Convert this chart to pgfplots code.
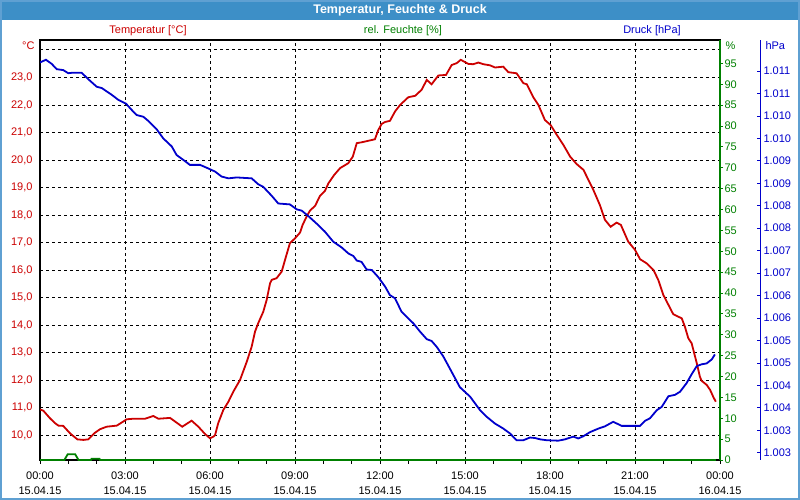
\documentclass[border=0pt]{standalone}
\usepackage{pgfplots}
\pgfplotsset{compat=1.18}
\usepackage{fontspec}
\setmainfont{Liberation Sans}

\definecolor{tcol}{RGB}{204,0,0}
\definecolor{hcol}{RGB}{0,128,0}
\definecolor{pcol}{RGB}{0,0,204}
\definecolor{barcol}{RGB}{61,143,199}
\definecolor{framecol}{RGB}{95,160,210}
\newcommand\lbl{\fontsize{11}{13}\selectfont}

\begin{document}
\begin{tikzpicture}[x=1pt,y=1pt]
\useasboundingbox (0,0) rectangle (800,500);
\fill[white] (0,0) rectangle (800,500);
\fill[barcol] (0,480) rectangle (800,500);
\draw[framecol, line width=2pt] (1,1) rectangle (799,499);
\node[white, font=\fontsize{12.5}{14}\selectfont\bfseries] at (400,490) {Temperatur, Feuchte \& Druck};

% temperature
\begin{axis}[
  at={(40pt,40pt)}, anchor=south west,
  width=680pt, height=420pt, scale only axis,
  xmin=0, xmax=24, ymin=9.09, ymax=24.36,
  axis line style={black, line width=1.2pt},
  xtick={0,3,...,24},
  xticklabels={{00:00\\15.04.15},{03:00\\15.04.15},{06:00\\15.04.15},{09:00\\15.04.15},{12:00\\15.04.15},{15:00\\15.04.15},{18:00\\15.04.15},{21:00\\15.04.15},{00:00\\16.04.15}},
  xticklabel style={align=center, font=\fontsize{11}{15}\selectfont, text=black, yshift=-4pt},
  minor xtick={1,2,4,5,7,8,10,11,13,14,16,17,19,20,22,23},
  xtick pos=bottom,
  tick align=outside,
  major tick length=4pt, minor tick length=4pt,
  tick style={black, line width=0.8pt},
  ytick={10,11,...,24},
  yticklabels={{10,0},{11,0},{12,0},{13,0},{14,0},{15,0},{16,0},{17,0},{18,0},{19,0},{20,0},{21,0},{22,0},{23,0},{}},
  yticklabel style={font=\lbl, text=tcol},
  ytick pos=left,
  ytick style={draw=none},
  xmajorgrids, ymajorgrids,
  major grid style={black, line width=0.8pt, dash pattern=on 3pt off 3pt},
]
\addplot[tcol, line width=1.8pt] coordinates {
(0.00,10.93) (0.12,10.88) (0.35,10.61) (0.53,10.43) (0.65,10.34) (0.82,10.33)
(1.06,10.06) (1.32,9.84) (1.53,9.82) (1.70,9.84) (1.94,10.08) (2.12,10.21)
(2.35,10.30) (2.71,10.34) (2.88,10.45) (3.06,10.57) (3.29,10.59) (3.71,10.59)
(4.00,10.69) (4.18,10.59) (4.59,10.62) (4.82,10.45) (5.02,10.30) (5.35,10.52)
(5.59,10.30) (5.82,10.04) (6.00,9.88) (6.12,9.94) (6.18,10.00) (6.29,10.43)
(6.47,10.91) (6.65,11.21) (6.82,11.57) (7.06,12.00) (7.30,12.67) (7.47,13.21)
(7.59,13.76) (7.70,14.06) (7.88,14.48) (8.00,14.91) (8.12,15.52) (8.18,15.64)
(8.35,15.70) (8.53,15.94) (8.68,16.48) (8.82,16.97) (9.00,17.15) (9.18,17.36)
(9.27,17.64) (9.41,17.94) (9.53,18.16) (9.71,18.33) (9.88,18.69) (10.06,18.88)
(10.18,19.15) (10.38,19.45) (10.59,19.70) (10.88,19.88) (11.04,20.12) (11.18,20.61)
(11.35,20.64) (11.82,20.75) (11.94,21.09) (12.06,21.31) (12.18,21.38) (12.35,21.42)
(12.53,21.76) (12.71,22.00) (13.00,22.28) (13.24,22.33) (13.47,22.55) (13.65,22.91)
(13.82,22.75) (14.06,23.07) (14.33,23.09) (14.53,23.45) (14.71,23.52) (14.85,23.64)
(15.12,23.49) (15.29,23.48) (15.47,23.54) (15.65,23.48) (15.88,23.44) (16.06,23.36)
(16.35,23.39) (16.53,23.19) (16.82,23.15) (17.06,22.79) (17.18,22.75) (17.41,22.28)
(17.59,22.00) (17.82,21.45) (18.02,21.27) (18.24,20.91) (18.47,20.55) (18.71,20.12)
(18.94,19.85) (19.18,19.64) (19.53,18.91) (19.76,18.36) (19.94,17.82) (20.14,17.57)
(20.35,17.72) (20.50,17.64) (20.76,17.03) (21.00,16.73) (21.18,16.39) (21.41,16.24)
(21.65,16.00) (21.82,15.64) (22.00,15.09) (22.18,14.73) (22.35,14.39) (22.65,14.24)
(22.76,13.94) (22.88,13.52) (23.00,13.33) (23.09,12.97) (23.18,12.61) (23.29,12.12)
(23.35,11.97) (23.53,11.82) (23.65,11.64) (23.76,11.39) (23.85,11.21)
};
\end{axis}

% humidity
\begin{axis}[
  at={(40pt,40pt)}, anchor=south west,
  width=680pt, height=420pt, scale only axis,
  xmin=0, xmax=24, ymin=0, ymax=100.6,
  axis x line=none, axis y line*=right,
  y axis line style={hcol, line width=1.2pt},
  ytick={0,5,...,95},
  yticklabel style={font=\lbl, text=hcol, xshift=-2pt},
  ytick style={hcol, line width=0.8pt},
  tick align=outside, major tick length=3pt,
  /pgf/number format/assume math mode=true,
  clip=false,
]
\addplot[hcol, line width=1.8pt] coordinates {
(0,0) (0.86,0) (0.98,1.4) (1.24,1.4) (1.36,0) (1.80,0) (1.82,0.3) (2.10,0.3) (2.12,0) (23.85,0)
};
\end{axis}

% pressure curve
\begin{axis}[
  at={(40pt,40pt)}, anchor=south west,
  width=680pt, height=420pt, scale only axis,
  xmin=0, xmax=24, ymin=1002.54, ymax=1011.89,
  hide axis,
]
\addplot[pcol, line width=1.8pt] coordinates {
(0.00,1011.39) (0.21,1011.45) (0.41,1011.36) (0.59,1011.24) (0.82,1011.22) (1.00,1011.15)
(1.12,1011.16) (1.47,1011.16) (1.70,1011.02) (2.00,1010.85) (2.18,1010.82) (2.53,1010.67)
(2.76,1010.56) (3.04,1010.47) (3.24,1010.33) (3.41,1010.22) (3.65,1010.18) (3.82,1010.09)
(4.12,1009.90) (4.35,1009.70) (4.65,1009.52) (4.82,1009.33) (5.06,1009.22) (5.29,1009.11)
(5.65,1009.11) (5.94,1009.03) (6.18,1008.96) (6.41,1008.85) (6.65,1008.81) (6.94,1008.83)
(7.47,1008.81) (7.70,1008.68) (7.88,1008.62) (8.18,1008.42) (8.41,1008.25) (8.82,1008.23)
(9.06,1008.12) (9.24,1008.09) (9.47,1007.97) (9.82,1007.77) (10.06,1007.62) (10.35,1007.40)
(10.65,1007.27) (10.88,1007.14) (11.06,1007.08) (11.18,1006.98) (11.35,1006.95) (11.53,1006.78)
(11.71,1006.77) (11.94,1006.61) (12.18,1006.40) (12.35,1006.21) (12.53,1006.14) (12.76,1005.84)
(13.18,1005.58) (13.41,1005.40) (13.65,1005.23) (13.82,1005.19) (14.00,1005.06) (14.23,1004.85)
(14.53,1004.50) (14.82,1004.16) (15.18,1003.95) (15.53,1003.65) (15.77,1003.50) (16.06,1003.35)
(16.35,1003.24) (16.59,1003.13) (16.82,1002.98) (17.06,1002.98) (17.29,1003.04) (17.47,1003.03)
(17.65,1003.00) (17.88,1002.98) (18.29,1002.97) (18.53,1003.00) (18.82,1003.06) (19.00,1003.02)
(19.18,1003.07) (19.41,1003.16) (19.71,1003.24) (19.94,1003.29) (20.23,1003.39) (20.53,1003.30)
(21.18,1003.30) (21.35,1003.41) (21.53,1003.47) (21.77,1003.65) (21.94,1003.72) (22.18,1003.96)
(22.41,1003.99) (22.59,1004.06) (22.82,1004.25) (23.00,1004.45) (23.18,1004.63) (23.35,1004.67)
(23.53,1004.69) (23.71,1004.78) (23.82,1004.89)
};
\end{axis}

% pressure scale
\begin{axis}[
  at={(720pt,40pt)}, anchor=south west,
  width=40pt, height=420pt, scale only axis,
  xmin=0, xmax=1, ymin=1002.54, ymax=1011.89,
  axis x line=none, axis y line*=right,
  y axis line style={pcol, line width=1pt},
  ytick={1002.7,1003.2,1003.7,1004.2,1004.7,1005.2,1005.7,1006.2,1006.7,1007.2,1007.7,1008.2,1008.7,1009.2,1009.7,1010.2,1010.7,1011.2},
  yticklabels={1.003,1.003,1.004,1.004,1.005,1.005,1.006,1.006,1.007,1.007,1.008,1.008,1.009,1.009,1.010,1.010,1.011,1.011},
  yticklabel style={font=\lbl, text=pcol},
  ytick style={pcol, line width=0.8pt},
  tick align=inside, major tick length=3pt,
]
\addplot[draw=none] coordinates {(0.5,1005)};
\end{axis}

\node[tcol, font=\lbl] at (148,469) {Temperatur [°C]};
\node[hcol, font=\lbl] at (403,469) {rel. Feuchte [\%]};
\node[pcol, font=\lbl] at (652,469) {Druck [hPa]};
\node[tcol, font=\lbl, anchor=east] at (38,454) {°C};
\node[hcol, font=\lbl, anchor=west] at (722,454) {\%};
\node[pcol, font=\lbl, anchor=west] at (762,454) {hPa};
\end{tikzpicture}
\end{document}
